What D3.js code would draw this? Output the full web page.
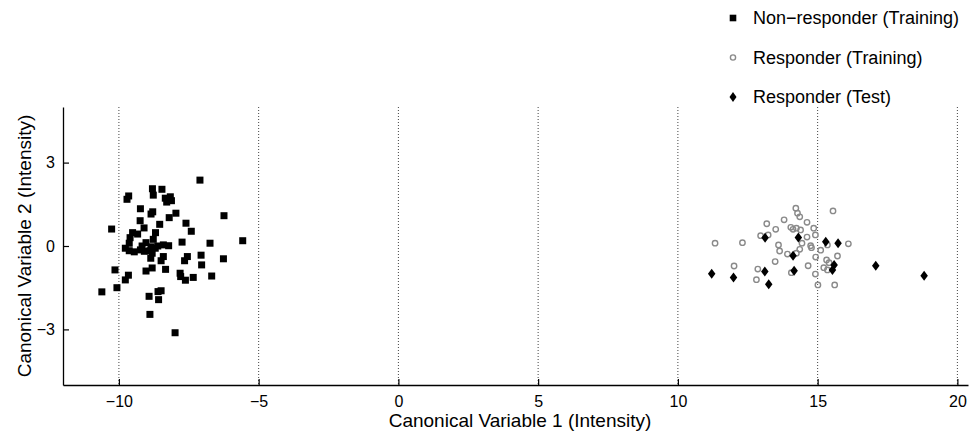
<!DOCTYPE html>
<html>
<head>
<meta charset="utf-8">
<script src="https://cdn.jsdelivr.net/npm/d3@7"></script>
<style>
  body { margin: 0; background: #fff; }
  svg { display: block; font-family: "Liberation Sans", Arial, sans-serif; }
</style>
</head>
<body>
<svg id="chart" width="969" height="439"></svg>
<script>
// Non-responder (Training) — black squares, [cv1, cv2]
let nonRespTrain = [
  [-7.10, 2.37], [-8.80, 2.06], [-8.46, 2.04], [-8.77, 1.83], [-9.65, 1.80], [-9.71, 1.68],
  [-8.34, 1.72], [-8.16, 1.77], [-8.12, 1.63], [-8.29, 1.58], [-9.23, 1.34], [-8.79, 1.23],
  [-8.85, 1.15], [-7.96, 1.18], [-8.20, 1.02], [-6.24, 1.09], [-9.24, 0.91], [-8.54, 0.78],
  [-7.60, 0.82], [-10.26, 0.61], [-9.10, 0.65], [-7.41, 0.53], [-9.51, 0.48], [-9.33, 0.43],
  [-8.69, 0.48], [-9.60, 0.30], [-8.77, 0.24], [-7.74, 0.14], [-6.74, 0.10], [-5.57, 0.19],
  [-9.63, 0.10], [-9.03, 0.12], [-9.17, 0.00], [-8.85, -0.03], [-8.61, 0.00], [-8.41, 0.04],
  [-8.22, 0.01], [-9.77, -0.08], [-9.63, -0.17], [-9.45, -0.21], [-9.23, -0.14], [-9.09, -0.19],
  [-8.89, -0.17], [-8.70, -0.08], [-8.81, -0.26], [-8.86, -0.44], [-8.41, -0.38], [-8.49, -0.53],
  [-7.55, -0.38], [-7.65, -0.53], [-7.06, -0.33], [-6.26, -0.46], [-7.04, -0.68], [-10.14, -0.86],
  [-8.81, -0.79], [-9.03, -0.90], [-8.33, -0.84], [-7.81, -0.98], [-7.79, -1.10], [-7.62, -1.23],
  [-7.34, -1.13], [-6.68, -1.08], [-9.66, -1.05], [-9.77, -1.22], [-10.07, -1.50], [-10.61, -1.65],
  [-8.49, -1.61], [-8.60, -1.64], [-8.92, -1.81], [-8.58, -1.93], [-8.89, -2.46], [-7.99, -3.12]
];

// Responder (Training) — gray open circles
let respTrain = [
  [14.22, 1.36], [15.55, 1.26], [14.28, 1.18], [14.36, 1.05], [13.80, 0.94], [14.62, 0.85],
  [13.18, 0.80], [14.86, 0.64], [13.50, 0.60], [14.04, 0.67], [14.12, 0.60], [14.24, 0.64],
  [14.39, 0.58], [12.96, 0.37], [13.23, 0.40], [14.62, 0.32], [14.92, 0.40], [11.33, 0.10],
  [12.31, 0.12], [14.44, 0.10], [13.60, 0.04], [14.75, 0.01], [14.78, -0.06], [15.35, 0.04],
  [16.10, 0.08], [13.64, -0.18], [14.36, -0.12], [15.11, -0.15], [13.92, -0.29], [14.24, -0.26],
  [14.93, -0.40], [15.71, -0.36], [13.48, -0.56], [15.32, -0.50], [15.41, -0.60], [12.01, -0.72],
  [14.66, -0.71], [15.22, -0.78], [15.35, -0.86], [12.86, -0.83], [14.06, -0.96], [14.92, -1.01],
  [12.81, -1.21], [15.01, -1.40], [15.61, -1.40]
];

// Responder (Test) — black diamonds
let respTest = [
  [13.12, 0.30], [14.31, 0.31], [15.29, 0.15], [15.73, 0.10], [14.12, -0.35], [15.59, -0.68],
  [15.53, -0.86], [17.08, -0.71], [13.11, -0.92], [14.16, -0.89], [11.21, -1.00], [11.99, -1.13],
  [18.81, -1.07], [13.25, -1.38]
];

let xTicks = [-10, -5, 0, 5, 10, 15, 20];
let yTicks = [-3, 0, 3];
let legendLabels = ["Non\u2212responder (Training)", "Responder (Training)", "Responder (Test)"];

let svg = d3.select("#chart");

let x = d3.scaleLinear().domain([-12, 20.38]).range([63, 968]);
let y = d3.scaleLinear().domain([-5, 5]).range([385, 107]);

// dotted vertical grid lines
svg.append("g")
  .selectAll("line")
  .data(xTicks)
  .join("line")
  .attr("x1", d => x(d)).attr("x2", d => x(d))
  .attr("y1", y(5)).attr("y2", y(-5))
  .attr("stroke", "#444")
  .attr("stroke-width", 1)
  .attr("stroke-dasharray", "1,2");

// axes
let xAxis = svg.append("g")
  .attr("transform", "translate(0," + y(-5) + ")")
  .call(d3.axisBottom(x).tickValues(xTicks).tickSizeInner(-6).tickSizeOuter(0).tickPadding(11));

let yAxis = svg.append("g")
  .attr("transform", "translate(" + x(-12) + ",0)")
  .call(d3.axisLeft(y).tickValues(yTicks).tickSizeInner(-6).tickSizeOuter(0).tickPadding(11));

[xAxis, yAxis].forEach(a => {
  a.select(".domain").attr("stroke", "#000").attr("stroke-width", 1.3);
  a.selectAll(".tick line").attr("stroke", "#000").attr("stroke-width", 1.2);
  a.selectAll(".tick text")
    .attr("fill", "#000")
    .style("font-size", "16px")
    .style("font-family", "'Liberation Sans', Arial, sans-serif");
});
yAxis.selectAll(".tick text").attr("x", -8);

// axis titles
svg.append("text")
  .attr("x", 520)
  .attr("y", 427)
  .attr("text-anchor", "middle")
  .style("font-size", "19px")
  .text("Canonical Variable 1 (Intensity)");

svg.append("text")
  .attr("transform", "translate(31," + y(0) + ") rotate(-90)")
  .attr("text-anchor", "middle")
  .style("font-size", "19px")
  .text("Canonical Variable 2 (Intensity)");

let diamond = (w, h) => `M0,${-h / 2}L${w / 2},0L0,${h / 2}L${-w / 2},0Z`;

// markers
let pts = svg.append("g");

pts.selectAll("rect.nr")
  .data(nonRespTrain)
  .join("rect")
  .attr("class", "nr")
  .attr("x", d => x(d[0]) - 3.5)
  .attr("y", d => y(d[1]) - 3.5)
  .attr("width", 7).attr("height", 7)
  .attr("fill", "#000");

pts.selectAll("circle.rt")
  .data(respTrain)
  .join("circle")
  .attr("class", "rt")
  .attr("cx", d => x(d[0]))
  .attr("cy", d => y(d[1]))
  .attr("r", 2.7)
  .attr("fill", "none")
  .attr("stroke", "#8a8a8a")
  .attr("stroke-width", 1.4);

pts.selectAll("path.rte")
  .data(respTest)
  .join("path")
  .attr("class", "rte")
  .attr("transform", d => "translate(" + x(d[0]) + "," + y(d[1]) + ")")
  .attr("d", diamond(7.5, 10))
  .attr("fill", "#000");

// legend
let legend = svg.append("g").attr("transform", "translate(733,0)");
let rowY = [18, 57.5, 97];

legend.append("rect")
  .attr("x", -3.3).attr("y", rowY[0] - 3.3)
  .attr("width", 6.6).attr("height", 6.6)
  .attr("fill", "#000");
legend.append("circle")
  .attr("cx", 0).attr("cy", rowY[1])
  .attr("r", 2.6)
  .attr("fill", "none")
  .attr("stroke", "#8a8a8a")
  .attr("stroke-width", 1.4);
legend.append("path")
  .attr("transform", "translate(0," + rowY[2] + ")")
  .attr("d", diamond(7, 10))
  .attr("fill", "#000");

legend.selectAll("text")
  .data(legendLabels)
  .join("text")
  .attr("x", 20)
  .attr("y", (d, i) => rowY[i])
  .attr("dy", "0.35em")
  .style("font-size", "18px")
  .text(d => d);
</script>
</body>
</html>
